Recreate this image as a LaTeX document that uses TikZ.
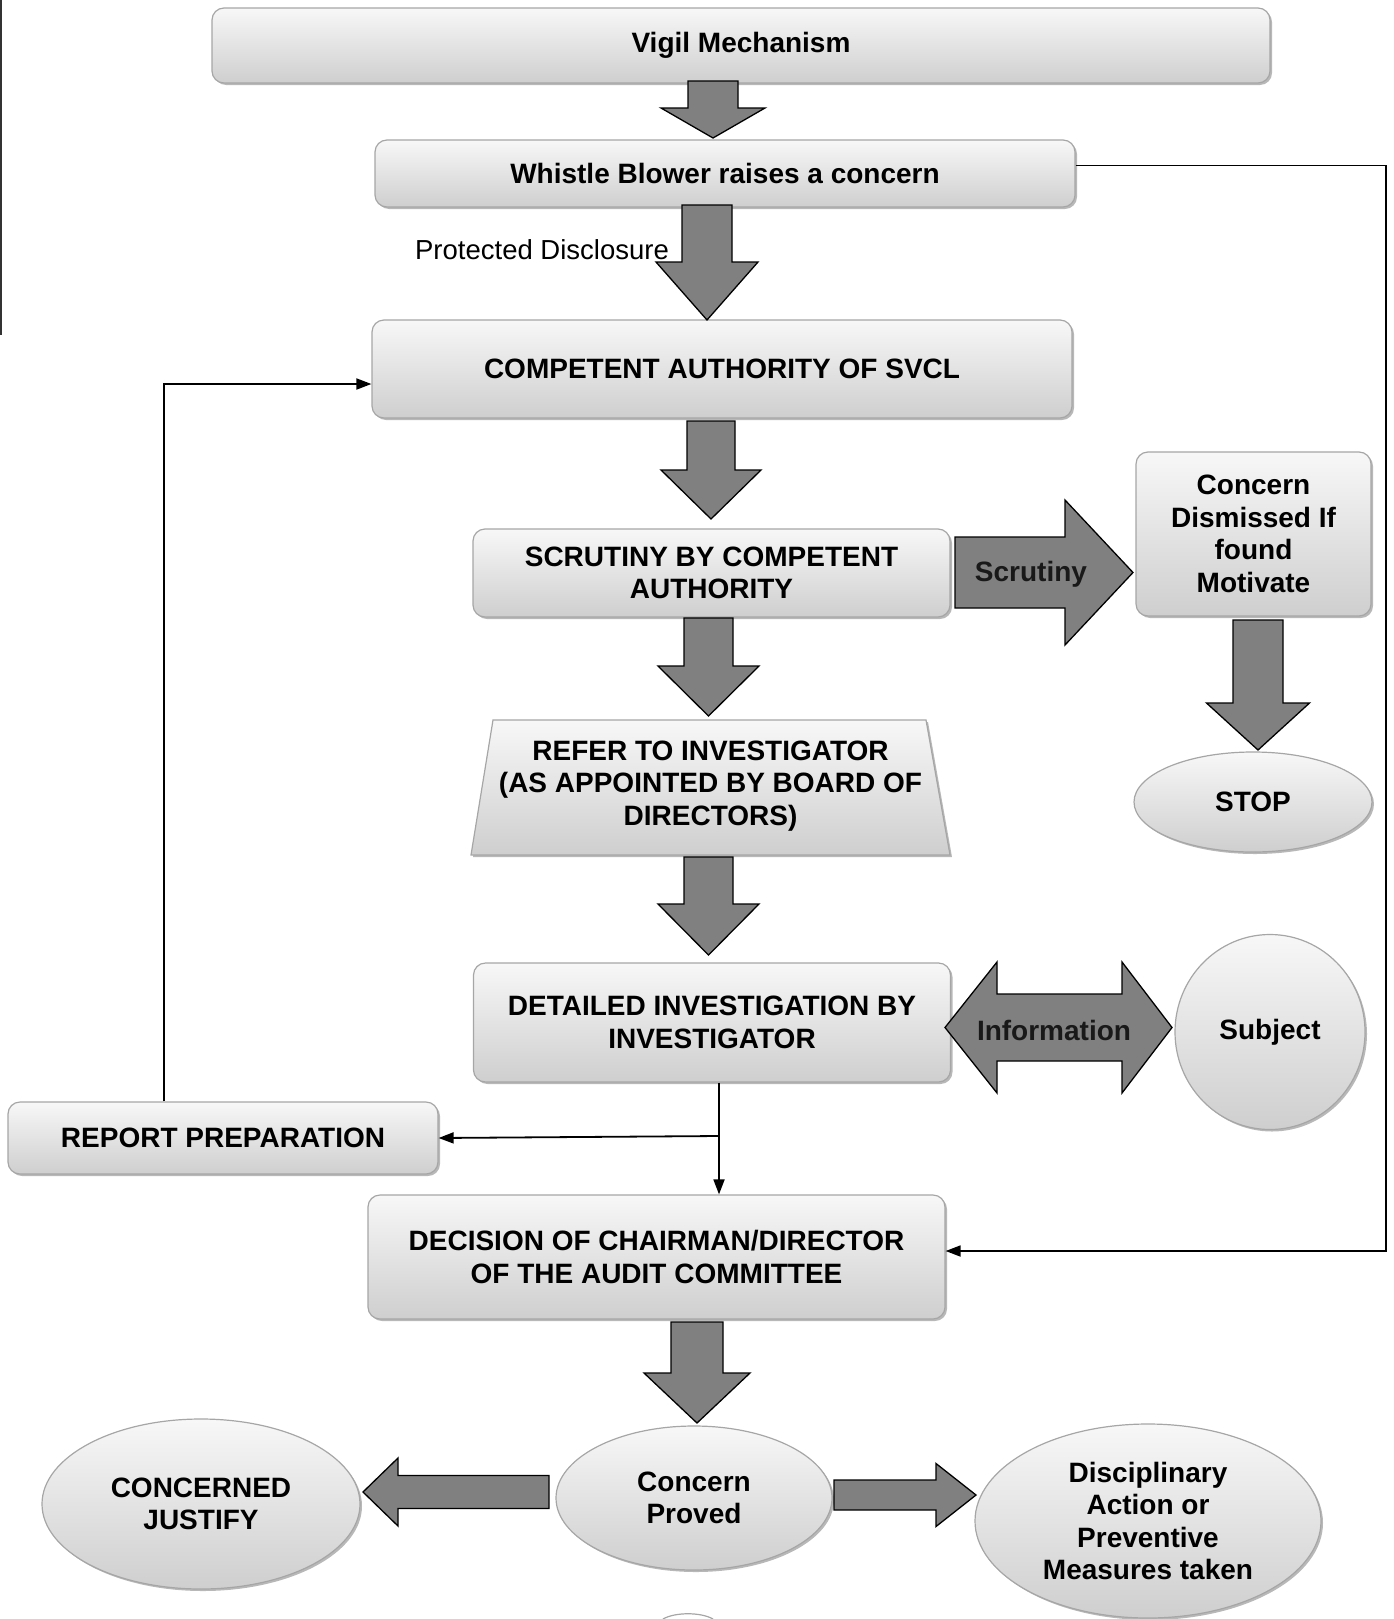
\documentclass[tikz,border=0pt]{standalone}
\usepackage{fontspec}
\setmainfont{Liberation Sans}
\usetikzlibrary{arrows.meta,shapes.geometric,shadows}
\newcommand\blkdown[6]{\draw[blk] ({#1-#3},#2) -- ({#1+#3},#2) -- ({#1+#3},#4) -- ({#1+#5},#4) -- (#1,#6) -- ({#1-#5},#4) -- ({#1-#3},#4) -- cycle;}
\newcommand\blkhoriz[6]{\draw[blk] (#1,{#2-#3}) -- (#4,{#2-#3}) -- (#4,{#2-#5}) -- (#6,#2) -- (#4,{#2+#5}) -- (#4,{#2+#3}) -- (#1,{#2+#3}) -- cycle;}
\tikzset{
  txt/.style={font=\fontsize{28}{32.5}\selectfont\bfseries, align=center, text=black},
  boxbase/.style={top color=gray!6, bottom color=gray!38, draw=gray!70, line width=1.2pt,
     drop shadow={shadow xshift=2pt, shadow yshift=-2pt, fill=gray!70, opacity=0.8}},
  rbox/.style={boxbase, txt, rounded corners=12pt, inner sep=0pt},
  ebox/.style={boxbase, txt, ellipse, inner sep=0pt},
  blk/.style={fill=black!50, draw=black, line width=1.3pt, line join=miter},
  conn/.style={draw=black, line width=1.8pt, -{Triangle[length=15pt,width=11pt]}},
  blktxt/.style={font=\fontsize{28}{32.5}\selectfont\bfseries, text=black!90}
}
\begin{document}
\begin{tikzpicture}[x=1pt,y=-1pt]
\useasboundingbox (0,0) rectangle (1393,1619);
% scan edge line and bottom fragment
\draw[black!80, line width=1.2pt] (1,0) -- (1,335);
\draw[gray!70, line width=1.2pt] (663,1619) .. controls (675,1612) and (701,1612) .. (713,1619);

% boxes
\node[rbox, minimum width=1058pt, minimum height=75pt] (vigil) at (741,45.5) {Vigil Mechanism};
\node[rbox, minimum width=700pt, minimum height=67pt] (whistle) at (725,173.5) {Whistle Blower raises a concern};
\node[font=\fontsize{27.5}{32.5}\selectfont] (protected) at (542,250) {Protected Disclosure};
\node[rbox, minimum width=700pt, minimum height=98pt] (competent) at (722,369) {COMPETENT AUTHORITY OF SVCL};
\node[rbox, minimum width=477pt, minimum height=88pt] (scrutiny) at (711.5,573) {SCRUTINY BY COMPETENT\\AUTHORITY};
\path[boxbase] (493,720) -- (926,720) -- (950,855) -- (471,855) -- cycle;
\node[txt] (refer) at (710.5,786) {REFER TO INVESTIGATOR\\(AS APPOINTED BY BOARD OF\\DIRECTORS)};
\node[rbox, minimum width=477pt, minimum height=119pt] (detailed) at (712,1022.5) {DETAILED INVESTIGATION BY\\INVESTIGATOR};
\node[rbox, minimum width=430pt, minimum height=72pt] (report) at (223,1138) {REPORT PREPARATION};
\node[rbox, minimum width=577pt, minimum height=124pt] (decision) at (656.5,1257) {DECISION OF CHAIRMAN/DIRECTOR\\OF THE AUDIT COMMITTEE};
\node[rbox, minimum width=235pt, minimum height=164pt] (dismissed) at (1253.5,534) {Concern\\Dismissed If\\found\\Motivate};
\node[ebox, minimum width=238pt, minimum height=100pt] (stop) at (1253,802) {STOP};
\node[ebox, minimum width=190pt, minimum height=195pt] (subject) at (1270,1032) {Subject};
\node[ebox, minimum width=276pt, minimum height=144pt] (proved) at (694,1498) {Concern\\Proved};
\node[ebox, minimum width=318pt, minimum height=170pt] (justify) at (201,1504) {CONCERNED\\JUSTIFY};
\node[ebox, minimum width=346pt, minimum height=194pt] (disc) at (1148,1521) {Disciplinary\\Action or\\Preventive\\Measures taken};

% block arrows
\blkdown{713}{81}{25}{108}{52}{138}
\blkdown{707}{205}{25}{262}{51}{320}
\blkdown{711}{421}{24}{470}{50}{519}
\blkdown{708.5}{618}{24.5}{666}{50.5}{716}
\blkdown{708.5}{857}{24.5}{904}{50.5}{955}
\blkdown{697}{1322}{26}{1373}{53}{1423}
\blkdown{1258}{620}{25}{703}{51.5}{750}
\blkhoriz{955}{572.5}{35.5}{1065}{72.5}{1133}
\blkhoriz{834}{1495}{15}{936}{31.5}{976}
\blkhoriz{549}{1492}{16.5}{398}{34}{363}
\draw[blk] (945,1027.5) -- (997,962) -- (997,994) -- (1122,994) -- (1122,962) -- (1172,1027.5)
  -- (1122,1093) -- (1122,1061) -- (997,1061) -- (997,1093) -- cycle;
\node[blktxt] (scrlabel) at (1031,574) {Scrutiny};
\node[blktxt] (infolabel) at (1054,1030) {Information};

% connectors
\coordinate (rx) at (1386,0);
\coordinate (lx) at (164,0);
\coordinate (dx) at (719,0);
\coordinate (branch) at (719,1136);
\draw[conn] ([yshift=8pt]whistle.east) -- ([yshift=8pt]whistle.east -| rx) -- ([yshift=6pt]decision.east -| rx) -- ([yshift=6pt]decision.east);
\draw[conn] (report.north -| lx) -- ([yshift=-15pt]competent.west -| lx) -- ([yshift=-15pt]competent.west);
\draw[conn] (detailed.south -| dx) -- (decision.north -| dx);
\draw[conn] (branch) -- (report.east);
\end{tikzpicture}
\end{document}
